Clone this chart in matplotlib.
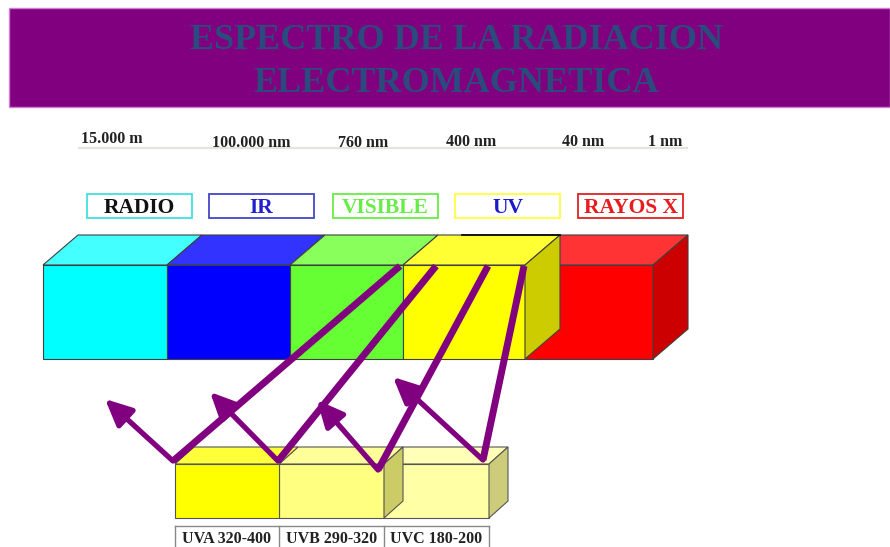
import matplotlib.pyplot as plt
from matplotlib.patches import Polygon, Rectangle

# Data
title_lines = ["ESPECTRO DE LA RADIACION", "ELECTROMAGNETICA"]
wavelengths = ["15.000 m", "100.000 nm", "760 nm", "400 nm", "40 nm", "1 nm"]
bands = ["RADIO", "IR", "VISIBLE", "UV", "RAYOS X"]
band_text_colors = ["#111111", "#2020d0", "#66ee44", "#1a1acc", "#e81c1c"]
band_box_colors = ["#40e0e0", "#4444cc", "#66ee44", "#ffff40", "#dd2222"]
uv_names = ["UVA", "UVB", "UVC"]
uv_ranges = ["320-400", "290-320", "180-200"]

PURPLE = "#800080"
SERIF = ["Liberation Serif", "DejaVu Serif"]

fig = plt.figure(figsize=(8.9, 5.47), dpi=100)
ax = fig.add_axes([0, 0, 1, 1])
ax.set_xlim(0, 890)
ax.set_ylim(547, 0)
ax.axis("off")


def cube(x0, x1, ytop, ybot, dx, dy, front, top, side=None, ec="#404040"):
    ax.add_patch(Rectangle((x0, ytop), x1 - x0, ybot - ytop, fc=front, ec=ec, lw=0.8))
    ax.add_patch(Polygon([(x0, ytop), (x1, ytop), (x1 + dx, ytop + dy), (x0 + dx, ytop + dy)],
                         closed=True, fc=top, ec=ec, lw=0.8))
    if side is not None:
        ax.add_patch(Polygon([(x1, ytop), (x1 + dx, ytop + dy), (x1 + dx, ybot + dy), (x1, ybot)],
                             closed=True, fc=side, ec=ec, lw=0.8))


# title band
ax.add_patch(Rectangle((9, 8), 881, 99, fc=PURPLE, ec="#d080d0", lw=1))
ax.text(456, 49, title_lines[0], ha="center", va="baseline", fontsize=26,
        fontweight="bold", family=SERIF, color="#2a4b7c")
ax.text(456, 92, title_lines[1], ha="center", va="baseline", fontsize=26,
        fontweight="bold", family=SERIF, color="#2a4b7c")

# wavelength scale
ax.plot([78, 688], [148, 148], color="#e4e4dc", lw=1.6, solid_capstyle="butt")
wl_x = [81, 212, 338, 446, 562, 648]
wl_y = [143, 147, 147, 146, 146, 146]
for lab, x, y in zip(wavelengths, wl_x, wl_y):
    ax.text(x, y, lab, ha="left", va="baseline", fontsize=11.5, fontweight="bold",
            family=SERIF, color="#222222")

# band label boxes
box_x = [87, 209, 333, 455, 578]
for lab, x, tc, bc in zip(bands, box_x, band_text_colors, band_box_colors):
    ax.add_patch(Rectangle((x, 194), 105, 24, fc="white", ec=bc, lw=1.3))
    ax.text(x + 52.5, 213, lab, ha="center", va="baseline", fontsize=15.5, fontweight="bold",
            family=SERIF, color=tc)

# big 3D spectrum bar
edges = [43, 167, 290, 403, 525, 653]
fronts = ["#00ffff", "#0000ff", "#66ff33", "#ffff00", "#ff0000"]
tops = ["#44ffff", "#3333ff", "#88ff5a", "#ffff33", "#ff3333"]
DX, DY = 35, -30
for i in range(3):
    cube(edges[i], edges[i + 1], 265, 359, DX, DY, fronts[i], tops[i])
cube(edges[4], edges[5], 265, 359, DX, DY, fronts[4], tops[4], side="#cc0000")
cube(edges[3], edges[4], 265, 359, DX, DY, fronts[3], tops[3], side="#cccc00")
ax.plot([462, 560], [235, 235], color="black", lw=1.2)

# small UV boxes
uv_edges = [175, 279, 384, 489]
uv_fronts = ["#ffff00", "#ffff80", "#ffffa6"]
uv_tops = ["#ffff3a", "#ffff99", "#ffffb8"]
uv_sides = [None, "#cccc66", "#cccc7a"]
for i in [2, 1, 0]:
    cube(uv_edges[i], uv_edges[i + 1], 464, 518, 19, -17, uv_fronts[i], uv_tops[i],
         side=uv_sides[i], ec="#555555")

# UV label table
ax.plot([uv_edges[0], uv_edges[-1]], [526, 526], color="#888888", lw=1)
for x in uv_edges:
    ax.plot([x, x], [526, 547], color="#888888", lw=1)
for i, (n, r) in enumerate(zip(uv_names, uv_ranges)):
    ax.text((uv_edges[i] + uv_edges[i + 1]) / 2, 543, f"{n} {r}", ha="center", va="baseline",
            fontsize=11.5, fontweight="bold", family=SERIF, color="#222222")

# incoming rays
ray_start = [(400, 266), (436, 266), (488, 266), (524, 266)]
ray_end = [(173, 461), (278, 461), (378, 470), (483, 460)]
for (x0, y0), (x1, y1) in zip(ray_start, ray_end):
    ax.plot([x0, x1], [y0, y1], color=PURPLE, lw=5, solid_capstyle="butt", zorder=5)

# reflected arrows
arrow_tip = [(105, 399), (210, 392), (317, 400), (393, 377)]
for (x0, y0), tip in zip(ray_end, arrow_tip):
    ax.annotate("", xy=tip, xytext=(x0, y0),
                arrowprops=dict(arrowstyle="-|>,head_length=1.6,head_width=0.75",
                                color=PURPLE, lw=3.8, shrinkA=0, shrinkB=0),
                zorder=5)

fig.savefig("out.png", dpi=100)
